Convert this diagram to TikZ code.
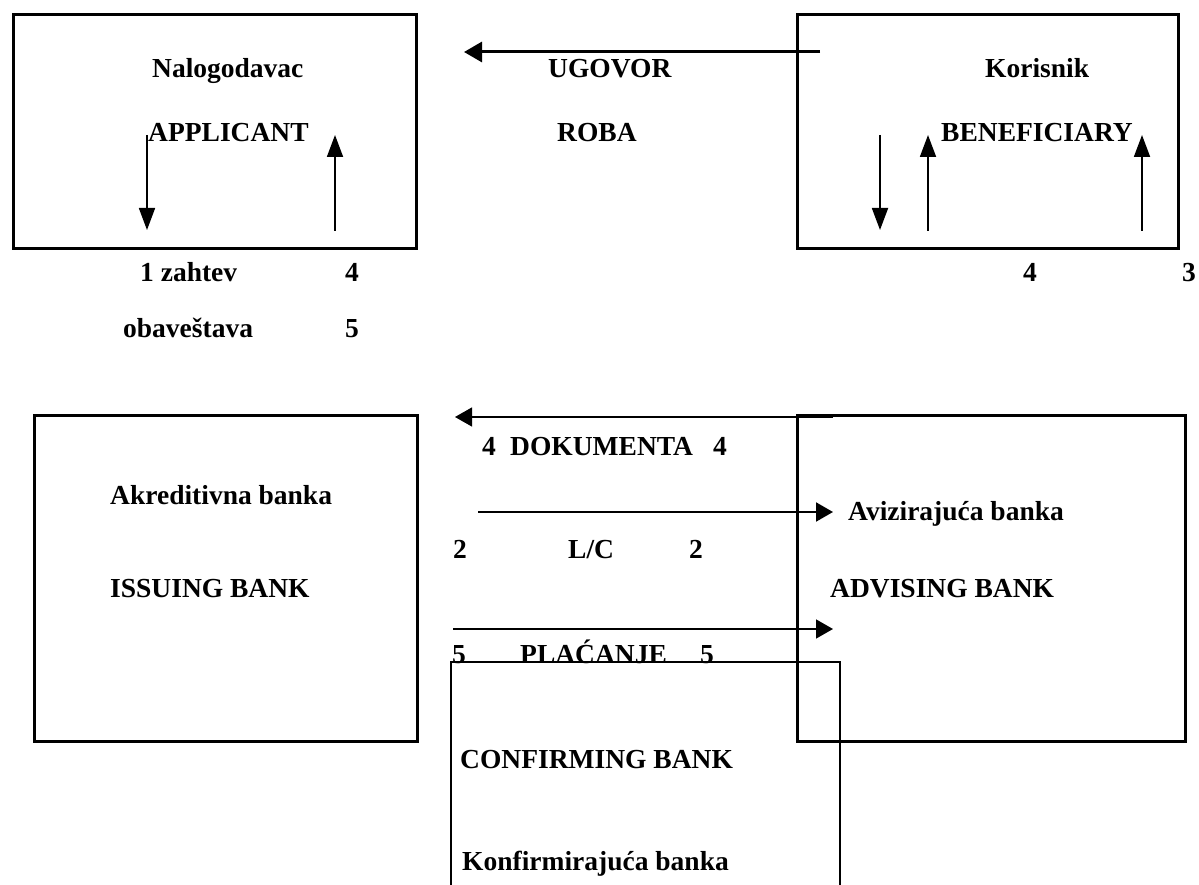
\documentclass[tikz,border=0pt]{standalone}
\usepackage{fontspec}
\setmainfont{Liberation Serif}
\usetikzlibrary{arrows.meta}

\tikzset{
  party/.style={draw, line width=3pt, inner sep=0pt, anchor=north west},
  lbl/.style={inner sep=0pt, anchor=base west, font=\fontsize{27.5}{30}\selectfont\bfseries},
  flowthick/.style={line width=3pt, -{Triangle[length=18pt,width=20pt]}},
  flowinner/.style={line width=1.8pt, -{Triangle[length=22pt,width=16pt]}},
  flowbank/.style={line width=1.6pt, -{Triangle[length=17pt,width=19pt]}},
  openbox/.style={line width=1.5pt},
}

\begin{document}
\begin{tikzpicture}[x=1pt,y=-1pt]
  \useasboundingbox (0,0) rectangle (1199,885);

  % parties and banks
  \node[party, minimum width=403pt, minimum height=234pt] (applicant) at (12,13) {};
  \node[party, minimum width=381pt, minimum height=234pt] (beneficiary) at (796,13) {};
  \node[party, minimum width=383pt, minimum height=326pt] (issuing) at (33,414) {};
  \node[party, minimum width=388pt, minimum height=326pt] (advising) at (796,414) {};

  % open frame of the confirming bank
  \coordinate (cbl) at (451,885);
  \coordinate (cbtl) at (451,662);
  \coordinate (cbtr) at (840,662);
  \coordinate (cbr) at (840,885);
  \draw[openbox] (cbl) -- (cbtl) -- (cbtr) -- (cbr);

  % texts in the top row
  \node[lbl] (t1) at (152,78) {Nalogodavac};
  \node[lbl] (t2) at (148,142) {APPLICANT};
  \node[lbl] (t3) at (548,78) {UGOVOR};
  \node[lbl] (t4) at (557,142) {ROBA};
  \node[lbl] (t5) at (985,78) {Korisnik};
  \node[lbl] (t6) at (941,142) {BENEFICIARY};

  \node[lbl] (t7) at (140,282) {1 zahtev};
  \node[lbl] (t8) at (345,282) {4};
  \node[lbl] (t9) at (123,337) {obaveštava};
  \node[lbl] (t10) at (345,337) {5};
  \node[lbl] (t11) at (1023,282) {4};
  \node[lbl] (t12) at (1182,282) {3};

  % texts in the bank row
  \node[lbl] (d1) at (482,455) {4};
  \node[lbl] (d2) at (510,455) {DOKUMENTA};
  \node[lbl] (d3) at (713,455) {4};
  \node[lbl] (l1) at (453,558) {2};
  \node[lbl] (l2) at (568,558) {L/C};
  \node[lbl] (l3) at (689,558) {2};
  \node[lbl] (p1) at (452,663) {5};
  \node[lbl] (p2) at (520,663) {PLAĆANJE};
  \node[lbl] (p3) at (700,663) {5};

  \node[lbl] (b1) at (110,504) {Akreditivna banka};
  \node[lbl] (b2) at (110,597) {ISSUING BANK};
  \node[lbl] (b3) at (848,520) {Avizirajuća banka};
  \node[lbl] (b4) at (830,597) {ADVISING BANK};
  \node[lbl] (b5) at (460,768) {CONFIRMING BANK};
  \node[lbl] (b6) at (462,870) {Konfirmirajuća banka};

  % arrow ends
  \coordinate (ug1) at (820,52);  \coordinate (ug2) at (464,52);
  \coordinate (a1s) at (147,135); \coordinate (a1e) at (147,230);
  \coordinate (a2s) at (335,231); \coordinate (a2e) at (335,135);
  \coordinate (k1s) at (880,135); \coordinate (k1e) at (880,230);
  \coordinate (k2s) at (928,231); \coordinate (k2e) at (928,135);
  \coordinate (k3s) at (1142,231); \coordinate (k3e) at (1142,135);
  \coordinate (dks) at (833,417); \coordinate (dke) at (455,417);
  \coordinate (lcs) at (478,512); \coordinate (lce) at (833,512);
  \coordinate (pls) at (453,629); \coordinate (ple) at (833,629);

  % arrows
  \draw[flowthick] (ug1) -- (ug2);
  \draw[flowinner] (a1s) -- (a1e);
  \draw[flowinner] (a2s) -- (a2e);
  \draw[flowinner] (k1s) -- (k1e);
  \draw[flowinner] (k2s) -- (k2e);
  \draw[flowinner] (k3s) -- (k3e);
  \draw[flowbank, line width=1.3pt] (dks) -- (dke);
  \draw[flowbank, line width=2pt] (lcs) -- (lce);
  \draw[flowbank] (pls) -- (ple);
\end{tikzpicture}
\end{document}
